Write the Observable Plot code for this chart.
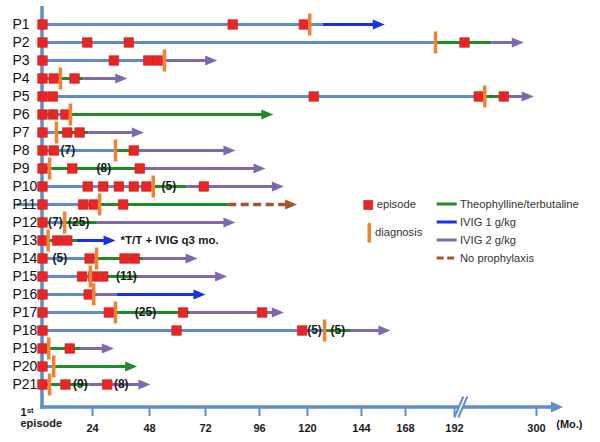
<!DOCTYPE html>
<html><head><meta charset="utf-8">
<script src="https://cdn.jsdelivr.net/npm/d3@7"></script>
<script src="https://cdn.jsdelivr.net/npm/@observablehq/plot@0.6"></script>
<style>
html,body{margin:0;padding:0;background:#fff;}
#chart{position:relative;width:600px;height:442px;}
</style></head><body><div id="chart"></div>
<script>
// ---- data (months since 1st episode) ----
const patients = ["P1","P2","P3","P4","P5","P6","P7","P8","P9","P10","P11","P12","P13","P14","P15","P16","P17","P18","P19","P20","P21"];
const phases = ["none","TT","IVIG1","IVIG2","noProph"];
const phaseColors = ["#5f8dc7","#22892a","#1632e4","#8069aa","#a4532b"];
const legendLabels = ["Theophylline/terbutaline","IVIG 1 g/kg","IVIG 2 g/kg","No prophylaxis"];
const tickMonths = [24,48,72,96,120,144,168,192,300];
// hand-drawn, broken time axis: month -> pixel anchors
const axisMonths = [0,24,48,72,96,120,144,168,192,300,335];
const axisPixels = [42,92,149,205,259,307,361,405,454,536,563];
const axisBreak = 201;

// [patient, start, end, phase]
const segments = [
  ["P1",0,127,"none"],["P1",127,156.7,"IVIG1"],
  ["P2",0,182.7,"none"],["P2",182.7,241.6,"TT"],["P2",241.6,283.3,"IVIG2"],
  ["P3",0,54.4,"none"],["P3",54.4,77.2,"IVIG2"],
  ["P4",0,8.6,"none"],["P4",8.6,19.8,"TT"],["P4",19.8,38.6,"IVIG2"],
  ["P5",0,231.9,"none"],["P5",231.9,263,"TT"],["P5",263,296.4,"IVIG2"],
  ["P6",0,13.4,"none"],["P6",13.4,102.9,"TT"],
  ["P7",0,6.7,"none"],["P7",6.7,22.2,"TT"],["P7",22.2,45.6,"IVIG2"],
  ["P8",0,33.7,"none"],["P8",33.7,43.4,"TT"],["P8",43.4,85.3,"IVIG2"],
  ["P9",0,3.4,"none"],["P9",3.4,44.5,"TT"],["P9",44.5,99,"IVIG2"],
  ["P10",0,49.6,"none"],["P10",49.6,64.2,"TT"],["P10",64.2,108.2,"IVIG2"],
  ["P11",-12,27,"none"],["P11",27,82.3,"TT"],["P11",82.3,114.8,"noProph"],
  ["P12",0,10.6,"none"],["P12",10.6,26,"TT"],["P12",26,85.3,"IVIG2"],
  ["P13",0,2.7,"none"],["P13",2.7,16.7,"TT"],["P13",16.7,33.7,"IVIG1"],
  ["P14",0,25.7,"none"],["P14",25.7,45.5,"TT"],["P14",45.5,68.6,"IVIG2"],
  ["P15",0,23,"none"],["P15",23,43.4,"TT"],["P15",43.4,81.6,"IVIG2"],
  ["P16",0,24.5,"none"],["P16",24.5,34.4,"IVIG2"],["P16",34.4,72,"IVIG1"],
  ["P17",0,33.7,"none"],["P17",33.7,65.6,"TT"],["P17",65.6,108.2,"IVIG2"],
  ["P18",0,127.6,"none"],["P18",127.6,139.1,"TT"],["P18",139.1,159.8,"IVIG2"],
  ["P19",0,3,"none"],["P19",3,18.2,"TT"],["P19",18.2,33,"IVIG2"],
  ["P20",0,5.4,"none"],["P20",5.4,42.8,"TT"],
  ["P21",0,3.4,"none"],["P21",3.4,22.2,"TT"],["P21",22.2,48.4,"IVIG2"]
];

const episodes = [
  ["P1",0],["P1",84.1],["P1",118.2],
  ["P2",0],["P2",21.5],["P2",39.3],["P2",205.2],
  ["P3",0],["P3",33],["P3",47.5],["P3",51.6],
  ["P4",0],["P4",5.4],["P4",15.4],
  ["P5",0],["P5",4.9],["P5",122.8],["P5",224],["P5",256.9],
  ["P6",0],["P6",5.1],["P6",11],
  ["P7",0],["P7",11.9],["P7",17.8],
  ["P8",0],["P8",5.4],["P8",41.4],
  ["P9",0],["P9",14.3],["P9",43.9],
  ["P10",0],["P10",21.7],["P10",28.5],["P10",35.1],["P10",41.4],["P10",46.7],["P10",71.3],
  ["P11",0],["P11",19.5],["P11",24.5],["P11",36.9],
  ["P12",0],
  ["P13",0],["P13",7.1],["P13",11.9],
  ["P14",0],["P14",22.6],["P14",37.5],["P14",41.8],
  ["P15",0],["P15",19],["P15",24.3],["P15",28.5],
  ["P16",0],["P16",22.2],
  ["P17",0],["P17",30.9],["P17",62.4],["P17",97.3],
  ["P18",0],["P18",59.6],["P18",117.3],
  ["P19",0],["P19",13.1],
  ["P20",0],
  ["P21",0],["P21",11],["P21",30.2]
];

const diagnoses = [
  ["P1",121],["P2",182.7],["P3",54.4],["P4",8.6],["P5",231.9],["P6",13.4],["P7",6.7],
  ["P8",33.7],["P9",3.4],["P10",49.6],["P11",27],["P12",10.6],["P13",2.7],["P14",25.7],
  ["P15",23],["P16",24.5],["P17",33.7],["P18",127.6],["P19",3],["P20",5.4],["P21",3.4]
];

// [patient, month (label centre), text]
const counts = [
  ["P8",12.2,"(7)"],["P9",28.8,"(8)"],["P10",56.3,"(5)"],["P12",6.2,"(7)"],["P12",17.4,"(25)"],
  ["P14",8.3,"(5)"],["P15",38.3,"(11)"],["P17",46.3,"(25)"],["P18",123.1,"(5)"],["P18",133.5,"(5)"],
  ["P21",18.2,"(9)"],["P21",36.1,"(8)"]
];
const footnotes = [["P13",35.8,"*T/T + IVIG q3 mo."]];

// ---- build ----
const axisColor = "#5f8dc7";
const seg = segments.map(([p,a,b,t]) => ({p,a,b,t}));
const lastSeg = Array.from(d3.group(seg, d => d.p).values(), g => g[g.length-1]);
const lastSet = new Set(lastSeg);
const midSolid = seg.filter(d => !lastSet.has(d));
const endSolid = lastSeg.filter(d => d.t !== "noProph");
const endDashed = lastSeg.filter(d => d.t === "noProph");

const arrowHead = {draw(c){ c.moveTo(0,0); c.lineTo(-12,-5); c.lineTo(-12,5); c.closePath(); }};
const squareSym = {draw(c){ c.rect(-4.8,-4.8,9.6,9.6); }};
const barSym = {draw(c){ c.rect(-1.75,-11,3.5,22); }};

function axisFrame(index, {x}, values, {height, marginTop, marginBottom}) {
  const y0 = height - marginBottom;
  const x0 = x(0), xEnd = x(axisMonths[axisMonths.length-1]), xb = x(axisBreak);
  const g = d3.create("svg:g");
  g.append("line").attr("x1",x0).attr("x2",x0).attr("y1",marginTop).attr("y2",y0+1.75)
    .attr("stroke",axisColor).attr("stroke-width",3.5);
  g.append("line").attr("x1",x0-1.75).attr("x2",xEnd-10).attr("y1",y0).attr("y2",y0)
    .attr("stroke",axisColor).attr("stroke-width",3.5);
  g.append("path").attr("d",`M${xEnd},${y0}L${xEnd-12},${y0-5.5}L${xEnd-12},${y0+5.5}Z`).attr("fill",axisColor);
  g.append("path").attr("d",`M${xb-6.5},${y0+10.5}L${xb+2.5},${y0-10.5}L${xb+6.5},${y0-10.5}L${xb-2.5},${y0+10.5}Z`).attr("fill","white");
  g.append("path").attr("d",`M${xb-6.5},${y0+10.5}L${xb+2.5},${y0-10.5}M${xb-2.5},${y0+10.5}L${xb+6.5},${y0-10.5}`)
    .attr("stroke",axisColor).attr("stroke-width",2).attr("fill","none");
  return g.node();
}

const bold = {fontWeight:"bold", fill:"#1a1a1a"};

const chart = Plot.plot({
  width:600, height:442,
  marginLeft:42, marginRight:18, marginTop:6, marginBottom:35,
  x:{type:"linear", domain:axisMonths, range:axisPixels},
  y:{type:"point", domain:patients, range:[14,393], axis:null},
  color:{domain:phases, range:phaseColors},
  style:{fontFamily:"'Liberation Sans', Arial, sans-serif", background:"white", overflow:"visible"},
  marks:[
    axisFrame,
    Plot.ruleY(midSolid, {y:"p", x1:"a", x2:"b", stroke:"t", strokeWidth:3}),
    Plot.ruleY(endSolid, {y:"p", x1:"a", x2:"b", stroke:"t", strokeWidth:3, insetRight:6}),
    Plot.ruleY(endDashed, {y:"p", x1:"a", x2:"b", stroke:"t", strokeWidth:3.5, insetRight:8, strokeDasharray:"8,4.5"}),
    Plot.dot(lastSeg, {y:"p", x:"b", fill:"t", stroke:"none", symbol:arrowHead}),
    Plot.text(patients, {y:d=>d, text:d=>d, frameAnchor:"left", textAnchor:"start", dx:-30, fontSize:14, fill:"#111"}),
    Plot.dot(episodes, {y:d=>d[0], x:d=>d[1], symbol:squareSym, fill:"#eb2424", stroke:"#b9261f", strokeWidth:0.6}),
    Plot.dot(diagnoses, {y:d=>d[0], x:d=>d[1], symbol:barSym, fill:"#f08232", stroke:"none"}),
    Plot.text(counts, {y:d=>d[0], x:d=>d[1], text:d=>d[2], fontSize:12, ...bold}),
    Plot.text(footnotes, {y:d=>d[0], x:d=>d[1], text:d=>d[2], textAnchor:"start", fontSize:11.5, ...bold}),
    Plot.axisX(tickMonths, {tickSize:9, tickPadding:7.5, stroke:axisColor, strokeWidth:2, color:"#1a1a1a",
      fontSize:11, fontWeight:"bold", tickFormat:d=>String(d), label:null}),
    Plot.text([0], {x:d=>d, text:()=>"episode", frameAnchor:"bottom", textAnchor:"start", dx:-22, dy:19.5, fontSize:11, ...bold}),
    Plot.text([0], {x:d=>d, text:()=>"1", frameAnchor:"bottom", textAnchor:"start", dx:-22, dy:8.8, fontSize:11, ...bold}),
    Plot.text([0], {x:d=>d, text:()=>"st", frameAnchor:"bottom", textAnchor:"start", dx:-15.6, dy:5.6, fontSize:7.5, ...bold}),
    Plot.text(["(Mo.)"], {text:d=>d, frameAnchor:"bottom-right", textAnchor:"end", dy:20.5, fontSize:11, ...bold})
  ]
});
document.getElementById("chart").appendChild(chart);

// ---- legend overlay ----
const lg = d3.select("#chart").append("svg")
  .attr("width",240).attr("height",80)
  .style("position","absolute").style("left","360px").style("top","190px")
  .style("font-family","'Liberation Sans', Arial, sans-serif").style("font-size","11.2px");
lg.append("rect").attr("x",3.8).attr("y",10.5).attr("width",9).attr("height",9)
  .attr("fill","#eb2424").attr("stroke","#b9261f").attr("stroke-width",0.6);
lg.append("text").attr("x",16.7).attr("y",18.3).attr("fill","#333").text("episode");
lg.append("rect").attr("x",7.5).attr("y",32.7).attr("width",3.5).attr("height",20).attr("rx",1.5).attr("fill","#f08232");
lg.append("text").attr("x",15).attr("y",46).attr("fill","#333").text("diagnosis");
legendLabels.forEach((label,i) => {
  const t = phases[i+1], yy = 14 + i*18;
  lg.append("line").attr("x1",76.7).attr("x2",96.7).attr("y1",yy).attr("y2",yy)
    .attr("stroke",phaseColors[i+1]).attr("stroke-width",3)
    .attr("stroke-dasharray", t === "noProph" ? "7,3.5" : null);
  lg.append("text").attr("x",100).attr("y",yy+3.7).attr("fill","#333").text(label);
});
</script></body></html>
